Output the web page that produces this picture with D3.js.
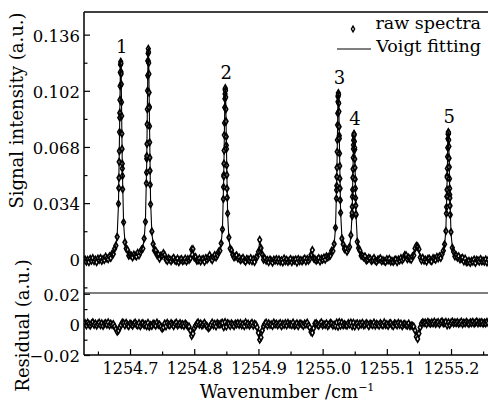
<!DOCTYPE html>
<html><head><meta charset="utf-8">
<script src="https://cdn.jsdelivr.net/npm/d3@7"></script>
<style>body{margin:0;background:#fff}svg{display:block}</style>
</head><body><svg id="c" width="488" height="404"></svg>
<script>
// ---------- DATA (intensities in units of 1e-4 a.u.) ----------
const gridStart = 1254.630, gridStep = 0.002, unit = 1e-4;
const rawGrid = [
-1,-15,-3,-17,3,-9,7,-11,-2,-17,
4,-4,8,-10,2,-4,16,5,1,18,
8,33,32,64,83,136,336,886,1134,550,
224,103,65,57,22,27,22,12,29,22,
18,39,24,42,59,65,126,227,609,1203,
924,333,169,92,54,53,26,29,4,22,
23,37,25,-1,-10,6,-1,-12,0,9,
-7,-12,4,-18,-3,2,-12,-7,4,-13,
1,-4,7,59,62,12,14,-8,-7,4,
-13,-1,3,-15,8,-3,9,25,5,-5,
13,25,11,25,46,52,97,181,510,1001,
690,278,132,65,55,27,12,18,24,5,
11,-6,0,9,-7,-14,3,-2,-8,7,
-12,0,-16,9,15,45,118,68,29,-2,
6,-9,-4,-17,-1,-9,-20,-2,-8,1,
-12,0,-14,-6,-19,5,-11,-3,-16,-7,
2,-17,-4,-9,-1,-20,2,-11,-4,-13,
-3,5,-13,2,-9,2,27,56,6,1,
-9,-1,7,-13,4,-2,11,-2,18,11,
18,23,51,50,93,191,445,984,748,282,
126,91,62,64,46,62,75,146,262,692,
664,268,106,68,53,22,21,12,18,-7,
-2,9,4,-10,-4,8,-9,-15,-2,0,
6,-12,-5,-11,-16,1,-7,3,-15,-9,
-16,-5,-1,-18,-1,-7,7,-6,5,26,
24,0,10,3,-3,18,24,66,81,78,
61,11,-7,9,-9,-2,-14,3,5,-7,
-12,7,4,-3,15,6,18,8,31,52,
91,171,504,760,391,165,70,45,17,24,
10,18,-1,5,9,-13,4,-18,-16,-9,
-22,-9,-14,-1,-22,-3,-7,-14,2,-13,
-8,-15,-1,-19,-4];
const fitGrid = [
-6,-6,-6,-5,-5,-5,-4,-4,-3,-3,
-2,-1,-1,0,0,2,4,6,9,14,
19,26,37,54,85,149,330,862,1152,548,
215,110,67,44,31,22,26,23,22,22,
23,28,32,40,53,77,122,233,584,1223,
916,353,161,93,60,41,30,22,17,20,
31,32,15,2,1,0,-2,-3,-4,-4,
-5,-5,-5,-6,-6,-6,-7,-7,-7,-7,
-6,0,17,54,60,20,2,-5,-6,-5,
-4,-4,-3,-2,-2,-1,15,17,4,6,
9,13,18,26,37,57,95,191,495,1009,
715,275,124,71,44,31,21,15,11,7,
5,2,0,-1,-2,-3,-4,-4,-5,-5,
-5,-4,-3,0,14,47,110,77,24,4,
-5,-6,-7,-7,-8,-8,-8,-8,-8,-8,
-8,-8,-8,-8,-8,-8,-8,-8,-8,-8,
-8,-8,-8,-7,-7,-7,-7,-6,-6,-6,
-6,-6,-5,-5,-5,2,37,44,7,-4,
-3,-3,-2,-1,0,1,3,5,8,12,
17,28,39,59,96,184,465,974,733,287,
136,85,63,53,53,59,79,137,282,680,
649,270,115,64,40,28,20,15,11,4,
1,-1,-1,-2,-3,-4,-4,-5,-5,-6,
-6,-6,-7,-7,-7,-7,-7,-8,-8,-8,
-8,-8,-8,-7,-6,-5,-3,0,8,17,
22,12,4,2,2,7,32,62,82,87,
52,12,0,-4,-5,-4,-4,-3,-3,-2,
-1,0,1,3,5,9,13,20,30,48,
86,179,484,765,406,156,74,44,27,18,
12,8,4,2,1,-4,-8,-12,-15,-16,
-15,-13,-11,-10,-10,-9,-9,-9,-9,-9,
-9,-9,-9,-9,-9];
const residGrid = [
8,-6,12,2,-9,5,14,-3,6,-8,
3,11,-5,7,-10,4,9,-2,13,-7,
5,-4,2,-15,-30,-48,-40,-20,-5,12,
8,-6,10,-3,-11,6,1,-9,4,11,
-2,-7,9,-12,3,8,-5,0,-12,10,
-15,-4,-10,5,2,-8,12,-3,-1,-15,
-28,-20,6,-13,10,-2,-6,8,1,-11,
4,12,-7,-1,9,-5,2,-10,6,-3,
-12,-15,-40,-75,-60,-25,-9,3,13,-2,
6,-8,0,10,-5,-12,-25,-18,-3,12,
-7,4,-13,9,1,-2,8,10,-18,15,
-14,8,3,-10,7,-1,-12,6,0,9,
-4,8,-6,2,-11,13,-3,5,-8,1,
10,-9,4,-2,-20,-55,-100,-85,-40,-12,
3,11,-8,7,-4,0,-10,12,-1,5,
-6,2,9,-12,4,-3,8,-7,10,-1,
1,-5,12,-9,-3,7,-11,4,6,-2,
-10,6,-1,11,-7,-20,-50,-55,-25,5,
8,-2,-9,4,13,-6,1,-3,7,-11,
-3,10,5,-8,-1,-10,12,-15,15,-8,
12,-6,2,-4,-9,8,0,11,-12,10,
-14,3,7,-11,5,-2,10,-6,-3,9,
2,-12,6,1,-5,11,-8,4,-1,-9,
9,-1,-7,13,-4,2,-10,6,8,-5,
-11,7,3,-6,10,-3,5,-12,1,4,
-5,-8,6,-12,-7,-9,-15,-40,-80,-95,
-60,-20,5,14,8,12,2,16,9,4,
13,6,18,3,10,15,1,12,20,7,
9,16,-6,14,-4,11,19,6,13,8,
15,4,10,18,2,12,7,16,9,3,
14,8,17,5,11,19,6,13,10,15,
4,12,7,16,9];

const peakWn = [1254.6855, 1254.7285, 1254.8484, 1255.0245, 1255.0489, 1255.1958];
const peakLabels = ["1", "", "2", "3", "4", "5"];
const rawPeakOffsets = [-0.003,-0.0027,-0.0024,-0.0021,-0.0018,-0.0015,-0.0012,-0.0009,-0.0006,-0.0003,0,
  0.0003,0.0006,0.0009,0.0012,0.0015,0.0018,0.0021,0.0024,0.0027,0.003];
const rawPeakVals = [
 [431,493,590,655,770,857,965,1049,1133,1178,1196,1186,1122,1060,951,868,760,668,579,505,424],
 [460,526,625,698,817,908,1021,1112,1199,1246,1274,1255,1188,1122,1009,918,806,708,615,536,451],
 [365,437,501,579,658,752,825,919,972,1028,1036,1020,982,909,835,742,668,569,511,428,373],
 [368,419,499,555,651,722,813,884,954,991,1006,999,944,894,803,732,641,565,489,429,358],
 [281,318,379,421,494,546,615,668,721,748,760,755,713,676,607,554,485,429,371,325,273],
 [277,316,380,421,497,550,621,675,730,757,770,765,722,683,612,558,488,429,371,324,269]];
const fitPeakOffsets = [-0.0009,-0.0006,-0.0003,0,0.0003,0.0006,0.0009];
const fitPeakVals = [
 [1055,1128,1182,1200,1182,1128,1055],
 [1117,1194,1251,1270,1251,1194,1117],
 [914,977,1024,1040,1024,977,914],
 [889,949,995,1010,995,949,889],
 [672,717,752,763,752,717,672],
 [679,726,761,773,761,726,679]];

const xTicks = [1254.7, 1254.8, 1254.9, 1255.0, 1255.1, 1255.2];
const xTickLabels = ["1254.7", "1254.8", "1254.9", "1255.0", "1255.1", "1255.2"];
const xMinor = [1254.65, 1254.75, 1254.85, 1254.95, 1255.05, 1255.15, 1255.25];
const yTicks = [0, 0.034, 0.068, 0.102, 0.136];
const yTickLabels = ["0", "0.034", "0.068", "0.102", "0.136"];
const yMinor = [-0.017, 0.017, 0.051, 0.085, 0.119];
const rTicks = [-0.02, 0, 0.02];
const rTickLabels = ["\u22120.02", "0", "0.02"];
const rMinor = [-0.01, 0.01];

// ---------- CHART ----------
const FONT = "DejaVu Serif";
const svg = d3.select("#c");
const L = 84, R = 488, T = 12, MID = 293, B = 355;
const x = d3.scaleLinear().domain([1254.6283, 1255.2576]).range([L, R]);
const y = d3.scaleLinear().domain([-0.0204, 0.1497]).range([MID, T]);
const yr = d3.scaleLinear().domain([-0.02, 0.0205]).range([B, MID]);

const rawPts = rawGrid.map((v, i) => [gridStart + i * gridStep, v * unit]);
const fitPts = fitGrid.map((v, i) => [gridStart + i * gridStep, v * unit]);
const resPts = residGrid.map((v, i) => [gridStart + i * gridStep, v * unit]);
peakWn.forEach((c, k) => {
  rawPeakOffsets.forEach((o, j) => rawPts.push([c + o, rawPeakVals[k][j] * unit]));
  fitPeakOffsets.forEach((o, j) => fitPts.push([c + o, fitPeakVals[k][j] * unit]));
});
fitPts.sort((a, b) => a[0] - b[0]);

const defs = svg.append("defs");
defs.append("clipPath").attr("id", "clipTop").append("rect").attr("x", L).attr("y", T).attr("width", R - L).attr("height", MID - T);
defs.append("clipPath").attr("id", "clipBot").append("rect").attr("x", L).attr("y", MID).attr("width", R - L).attr("height", B - MID);

const sym = d3.symbol(d3.symbolDiamond, 12);
const MS = 1.6;
const gTop = svg.append("g").attr("clip-path", "url(#clipTop)");
gTop.selectAll("path.raw").data(rawPts).join("path").attr("class", "raw")
  .attr("transform", d => `translate(${x(d[0])},${y(d[1])})`)
  .attr("d", sym).attr("fill", "#fff").attr("stroke", "#000").attr("stroke-width", MS);
gTop.append("path").datum(fitPts)
  .attr("d", d3.line().x(d => x(d[0])).y(d => y(d[1])))
  .attr("fill", "none").attr("stroke", "#000").attr("stroke-width", 1.1);

const gBot = svg.append("g").attr("clip-path", "url(#clipBot)");
gBot.selectAll("path.res").data(resPts).join("path").attr("class", "res")
  .attr("transform", d => `translate(${x(d[0])},${yr(d[1])})`)
  .attr("d", sym).attr("fill", "#fff").attr("stroke", "#000").attr("stroke-width", MS);

// peak labels
peakWn.forEach((c, k) => {
  if (!peakLabels[k]) return;
  svg.append("text").attr("x", x(c) + 1).attr("y", y(fitPeakVals[k][3] * unit) - 15)
    .attr("dy", "0.36em").attr("text-anchor", "middle")
    .attr("font-family", FONT).attr("font-size", 18).text(peakLabels[k]);
});

// axes
function styleAxis(g, fs) {
  g.select(".domain").remove();
  g.attr("font-family", FONT).attr("font-size", fs);
  g.selectAll("line").attr("stroke", "#000").attr("stroke-width", 1.2);
}
svg.append("g").attr("transform", `translate(0,${B})`)
  .call(d3.axisBottom(x).tickValues(xTicks).tickFormat((d, i) => xTickLabels[i]).tickSize(-6).tickPadding(8))
  .call(g => styleAxis(g, 16));
svg.append("g").attr("transform", `translate(0,${B})`)
  .call(d3.axisBottom(x).tickValues(xMinor).tickFormat("").tickSize(-3.5))
  .call(g => styleAxis(g, 16));
svg.append("g").attr("transform", `translate(${L},0)`)
  .call(d3.axisLeft(y).tickValues(yTicks).tickFormat((d, i) => yTickLabels[i]).tickSize(-6).tickPadding(4))
  .call(g => { styleAxis(g, 16.5); g.selectAll("text").attr("dy", "0.4em"); });
svg.append("g").attr("transform", `translate(${L},0)`)
  .call(d3.axisLeft(y).tickValues(yMinor).tickFormat("").tickSize(-3.5))
  .call(g => styleAxis(g, 16));
svg.append("g").attr("transform", `translate(${L},0)`)
  .call(d3.axisLeft(yr).tickValues(rTicks).tickFormat((d, i) => rTickLabels[i]).tickSize(-6).tickPadding(4))
  .call(g => { styleAxis(g, 16.5); g.selectAll("text").attr("dy", "0.4em"); });
svg.append("g").attr("transform", `translate(${L},0)`)
  .call(d3.axisLeft(yr).tickValues(rMinor).tickFormat("").tickSize(-3.5))
  .call(g => styleAxis(g, 16));

// frame
const frame = svg.append("g").attr("stroke", "#000").attr("fill", "none");
frame.append("line").attr("x1", L).attr("x2", L).attr("y1", T).attr("y2", B).attr("stroke-width", 1.5);
frame.append("line").attr("x1", L).attr("x2", R).attr("y1", T).attr("y2", T).attr("stroke-width", 1.5);
frame.append("line").attr("x1", L).attr("x2", R).attr("y1", B).attr("y2", B).attr("stroke-width", 1.5);
frame.append("line").attr("x1", L).attr("x2", R).attr("y1", MID).attr("y2", MID).attr("stroke-width", 1.2);

// titles
svg.append("text").attr("transform", "translate(23,110.5) rotate(-90)").attr("text-anchor", "middle")
  .attr("font-family", FONT).attr("font-size", 18).text("Signal intensity (a.u.)");
svg.append("text").attr("transform", "translate(29,325.5) rotate(-90)").attr("text-anchor", "middle")
  .attr("font-family", FONT).attr("font-size", 18).text("Residual (a.u.)");
const xt = svg.append("text").attr("x", 287).attr("y", 398).attr("text-anchor", "middle")
  .attr("font-family", FONT).attr("font-size", 18);
xt.append("tspan").text("Wavenumber /cm");
xt.append("tspan").attr("dy", -7).attr("font-size", 11).text("\u22121");

// legend
svg.append("path").attr("transform", "translate(353,29)").attr("d", d3.symbol(d3.symbolDiamond, 9))
  .attr("fill", "#fff").attr("stroke", "#000").attr("stroke-width", 1.4);
svg.append("text").attr("x", 481).attr("y", 29).attr("text-anchor", "end")
  .attr("font-family", FONT).attr("font-size", 17.5).text("raw spectra");
svg.append("line").attr("x1", 337).attr("x2", 371).attr("y1", 49).attr("y2", 49)
  .attr("stroke", "#000").attr("stroke-width", 1.2);
svg.append("text").attr("x", 481).attr("y", 51.5).attr("text-anchor", "end")
  .attr("font-family", FONT).attr("font-size", 17.5).text("Voigt fitting");
</script>
</body></html>
